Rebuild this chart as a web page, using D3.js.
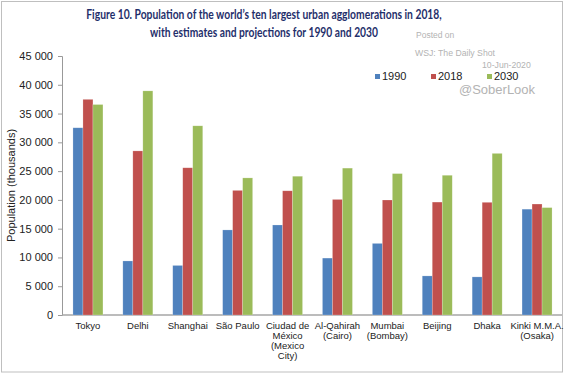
<!DOCTYPE html>
<html>
<head>
<meta charset="utf-8">
<script src="https://cdn.jsdelivr.net/npm/d3@7"></script>
<style>
  body { margin: 0; background: #fff; }
  svg text { font-family: "Liberation Sans", Arial, sans-serif; }
</style>
</head>
<body>
<div class="chart"></div>
<script>
let cities = ["Tokyo", "Delhi", "Shanghai", "São Paulo", "Ciudad de México (Mexico City)",
              "Al-Qahirah (Cairo)", "Mumbai (Bombay)", "Beijing", "Dhaka", "Kinki M.M.A. (Osaka)"];
let cityLines = [["Tokyo"], ["Delhi"], ["Shanghai"], ["São Paulo"], ["Ciudad de", "México", "(Mexico", "City)"],
                 ["Al-Qahirah", "(Cairo)"], ["Mumbai", "(Bombay)"], ["Beijing"], ["Dhaka"], ["Kinki M.M.A.", "(Osaka)"]];
let years = ["1990", "2018", "2030"];
let pop1990 = [32530, 9390, 8610, 14780, 15640, 9890, 12440, 6790, 6620, 18390];
let pop2018 = [37470, 28510, 25580, 21650, 21580, 20080, 19980, 19620, 19580, 19280];
let pop2030 = [36570, 38940, 32870, 23820, 24110, 25520, 24570, 24280, 28080, 18660];
let yTicks = [0, 5000, 10000, 15000, 20000, 25000, 30000, 35000, 40000, 45000];
let colors = ["#4f81bd", "#c0504d", "#9bbb59"];
let titleLines = ["Figure 10. Population of the world’s ten largest urban agglomerations in 2018,",
                  "with estimates and projections for 1990 and 2030"];

let W = 564, H = 375;
let margin = {top: 56, right: 2, bottom: 60, left: 62};

let svg = d3.select(".chart").append("svg").attr("width", W).attr("height", H);

// outer frame
svg.append("rect").attr("x", 1.5).attr("y", 1.5).attr("width", W - 3).attr("height", H - 4.5)
   .attr("fill", "none").attr("stroke", "#bfbfbf");

// title: Lato bold squeezed horizontally to look like Calibri
let titleW = [356, 228];
titleLines.forEach(function(line, i){
  let t = svg.append("text").attr("text-anchor", "middle").attr("fill", "#1f2f6b")
     .style("font-family", "Lato, 'Open Sans', sans-serif").style("font-weight", "bold").style("font-size", "13px")
     .text(line);
  let k = titleW[i] / t.node().getComputedTextLength();
  t.attr("transform", "translate(264," + (19 + i * 18) + ") scale(" + k + ",1)");
});

let x0 = d3.scaleBand().domain(cities).range([margin.left + 1, W - margin.right]).paddingInner(0).paddingOuter(0);
let x1 = d3.scaleBand().domain(years).range([0, 30]);
let y = d3.scaleLinear().domain([0, 45000]).range([H - margin.bottom, margin.top]);

let fmt = d => d3.format(",")(d).replace(/,/g, " ");

// y axis
let yAxis = d3.axisLeft(y).tickValues(yTicks).tickFormat(fmt).tickSize(4).tickPadding(5);
let yg = svg.append("g").attr("transform", "translate(" + margin.left + ",0)").call(yAxis);
yg.selectAll("text").style("font-size", "11px").attr("fill", "#222");
yg.selectAll("line").attr("stroke", "#999");
yg.select(".domain").attr("stroke", "#999");

// x axis
let xg = svg.append("g").attr("transform", "translate(0," + y(0) + ")");
xg.append("line").attr("x1", margin.left).attr("x2", W - margin.right).attr("stroke", "#a6a6a6").attr("stroke-width", 1.5);

let series = [pop1990, pop2018, pop2030];
let table = [];
cities.forEach(function(c, i){
  years.forEach(function(yr, k){
    table.push({city: c, year: yr, value: series[k][i], color: colors[k]});
  });
});

svg.append("g").selectAll("rect").data(table).enter()
  .append("rect")
    .attr("x", d => x0(d.city) + (x0.bandwidth() - 30) / 2 + x1(d.year))
    .attr("width", x1.bandwidth())
    .attr("y", d => y(d.value))
    .attr("height", d => y(0) - y(d.value))
    .attr("fill", d => d.color)
    .attr("stroke", "rgba(255,255,255,0.35)")
    .attr("stroke-width", 0.6);

// category labels
cities.forEach(function(c, i){
  let t = svg.append("text").attr("text-anchor", "middle").attr("fill", "#222").style("font-size", "9.5px");
  cityLines[i].forEach(function(line, j){
    t.append("tspan").attr("x", x0(c) + x0.bandwidth() / 2).attr("y", y(0) + 14 + j * 10).text(line);
  });
});

// axis title
svg.append("text").attr("transform", "translate(15," + (y(22500)) + ") rotate(-90)")
   .attr("text-anchor", "middle").attr("fill", "#222").style("font-size", "11px")
   .text("Population (thousands)");

// watermark
let wm = svg.append("g").attr("fill", "#b3b3b3");
wm.append("text").attr("x", 416).attr("y", 38).style("font-size", "8.5px").text("Posted on");
wm.append("text").attr("x", 415).attr("y", 56).style("font-size", "8.7px").text("WSJ: The Daily Shot");
wm.append("text").attr("x", 482).attr("y", 68).style("font-size", "8.7px").text("10-Jun-2020");
wm.append("text").attr("x", 459).attr("y", 94).style("font-size", "13px").text("@SoberLook");

// legend
let legX = [375, 431, 487];
let leg = svg.append("g").selectAll("g").data(years).enter().append("g")
   .attr("transform", (d, i) => "translate(" + legX[i] + ",74)");
leg.append("rect").attr("width", 5).attr("height", 5).attr("fill", (d, i) => colors[i]);
leg.append("text").attr("x", 7).attr("y", 6).attr("fill", "#222").style("font-size", "11px").text(d => d);
</script>
</body>
</html>
